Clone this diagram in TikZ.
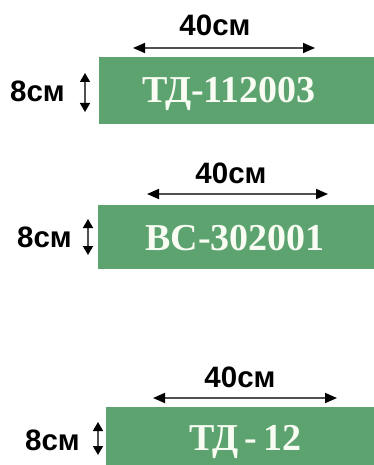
\documentclass[tikz,border=0pt]{standalone}
\usepackage{fontspec}
\setmainfont{Liberation Serif}
\newfontfamily\dimfont{Liberation Sans}
\usetikzlibrary{arrows.meta}
\definecolor{plategreen}{RGB}{92,163,112}
\definecolor{platetext}{RGB}{248,252,242}
\definecolor{dimline}{RGB}{80,80,80}
\tikzset{
  plate/.style={fill=plategreen, draw=none, inner sep=0pt, anchor=north west},
  platelabel/.style={anchor=base, inner sep=0pt, text=platetext, font=\fontsize{38}{40}\selectfont\bfseries},
  dimlabel/.style={anchor=base, inner sep=0pt, text=black, font=\dimfont\fontsize{29.5}{30}\selectfont\bfseries},
  hdim/.style={draw=dimline, line width=1.8pt, {Triangle[length=12pt,width=10pt,fill=black,color=black]}-{Triangle[length=12pt,width=10pt,fill=black,color=black]}},
  vdim/.style={draw=dimline, line width=1.6pt, {Triangle[length=9pt,width=10pt,fill=black,color=black]}-{Triangle[length=9pt,width=10pt,fill=black,color=black]}}
}
\begin{document}
\begin{tikzpicture}[x=1pt,y=-1pt]
\useasboundingbox[fill=white] (0,0) rectangle (374,465);
% plate 1
\node[plate, minimum width=275pt, minimum height=67pt] (b1) at (99,57) {};
\node[platelabel] (t1) at (229,103) {ТД-112003};
\coordinate (h1a) at (133,48);
\coordinate (h1b) at (315,48);
\draw[hdim] (h1a) -- (h1b);
\node[dimlabel] (w1) at (215,36) {40см};
\coordinate (v1a) at (85,73);
\coordinate (v1b) at (85,112);
\draw[vdim] (v1a) -- (v1b);
\node[dimlabel] (l1) at (37.5,102) {8см};
% plate 2
\node[plate, minimum width=276pt, minimum height=64pt] (b2) at (98,205) {};
\node[platelabel] (t2) at (235,250) {ВС-302001};
\coordinate (h2a) at (147,194);
\coordinate (h2b) at (328,194);
\draw[hdim] (h2a) -- (h2b);
\node[dimlabel] (w2) at (231,183) {40см};
\coordinate (v2a) at (88,219);
\coordinate (v2b) at (88,255);
\draw[vdim] (v2a) -- (v2b);
\node[dimlabel] (l2) at (44.5,247) {8см};
% plate 3
\node[plate, minimum width=268pt, minimum height=58pt] (b3) at (106,407) {};
\node[platelabel] (t3) at (245.5,450) {ТД\,-\,12};
\coordinate (h3a) at (153,398);
\coordinate (h3b) at (337,398);
\draw[hdim] (h3a) -- (h3b);
\node[dimlabel] (w3) at (240,387) {40см};
\coordinate (v3a) at (98,422);
\coordinate (v3b) at (98,455);
\draw[vdim] (v3a) -- (v3b);
\node[dimlabel] (l3) at (52.5,450) {8см};
\end{tikzpicture}
\end{document}
